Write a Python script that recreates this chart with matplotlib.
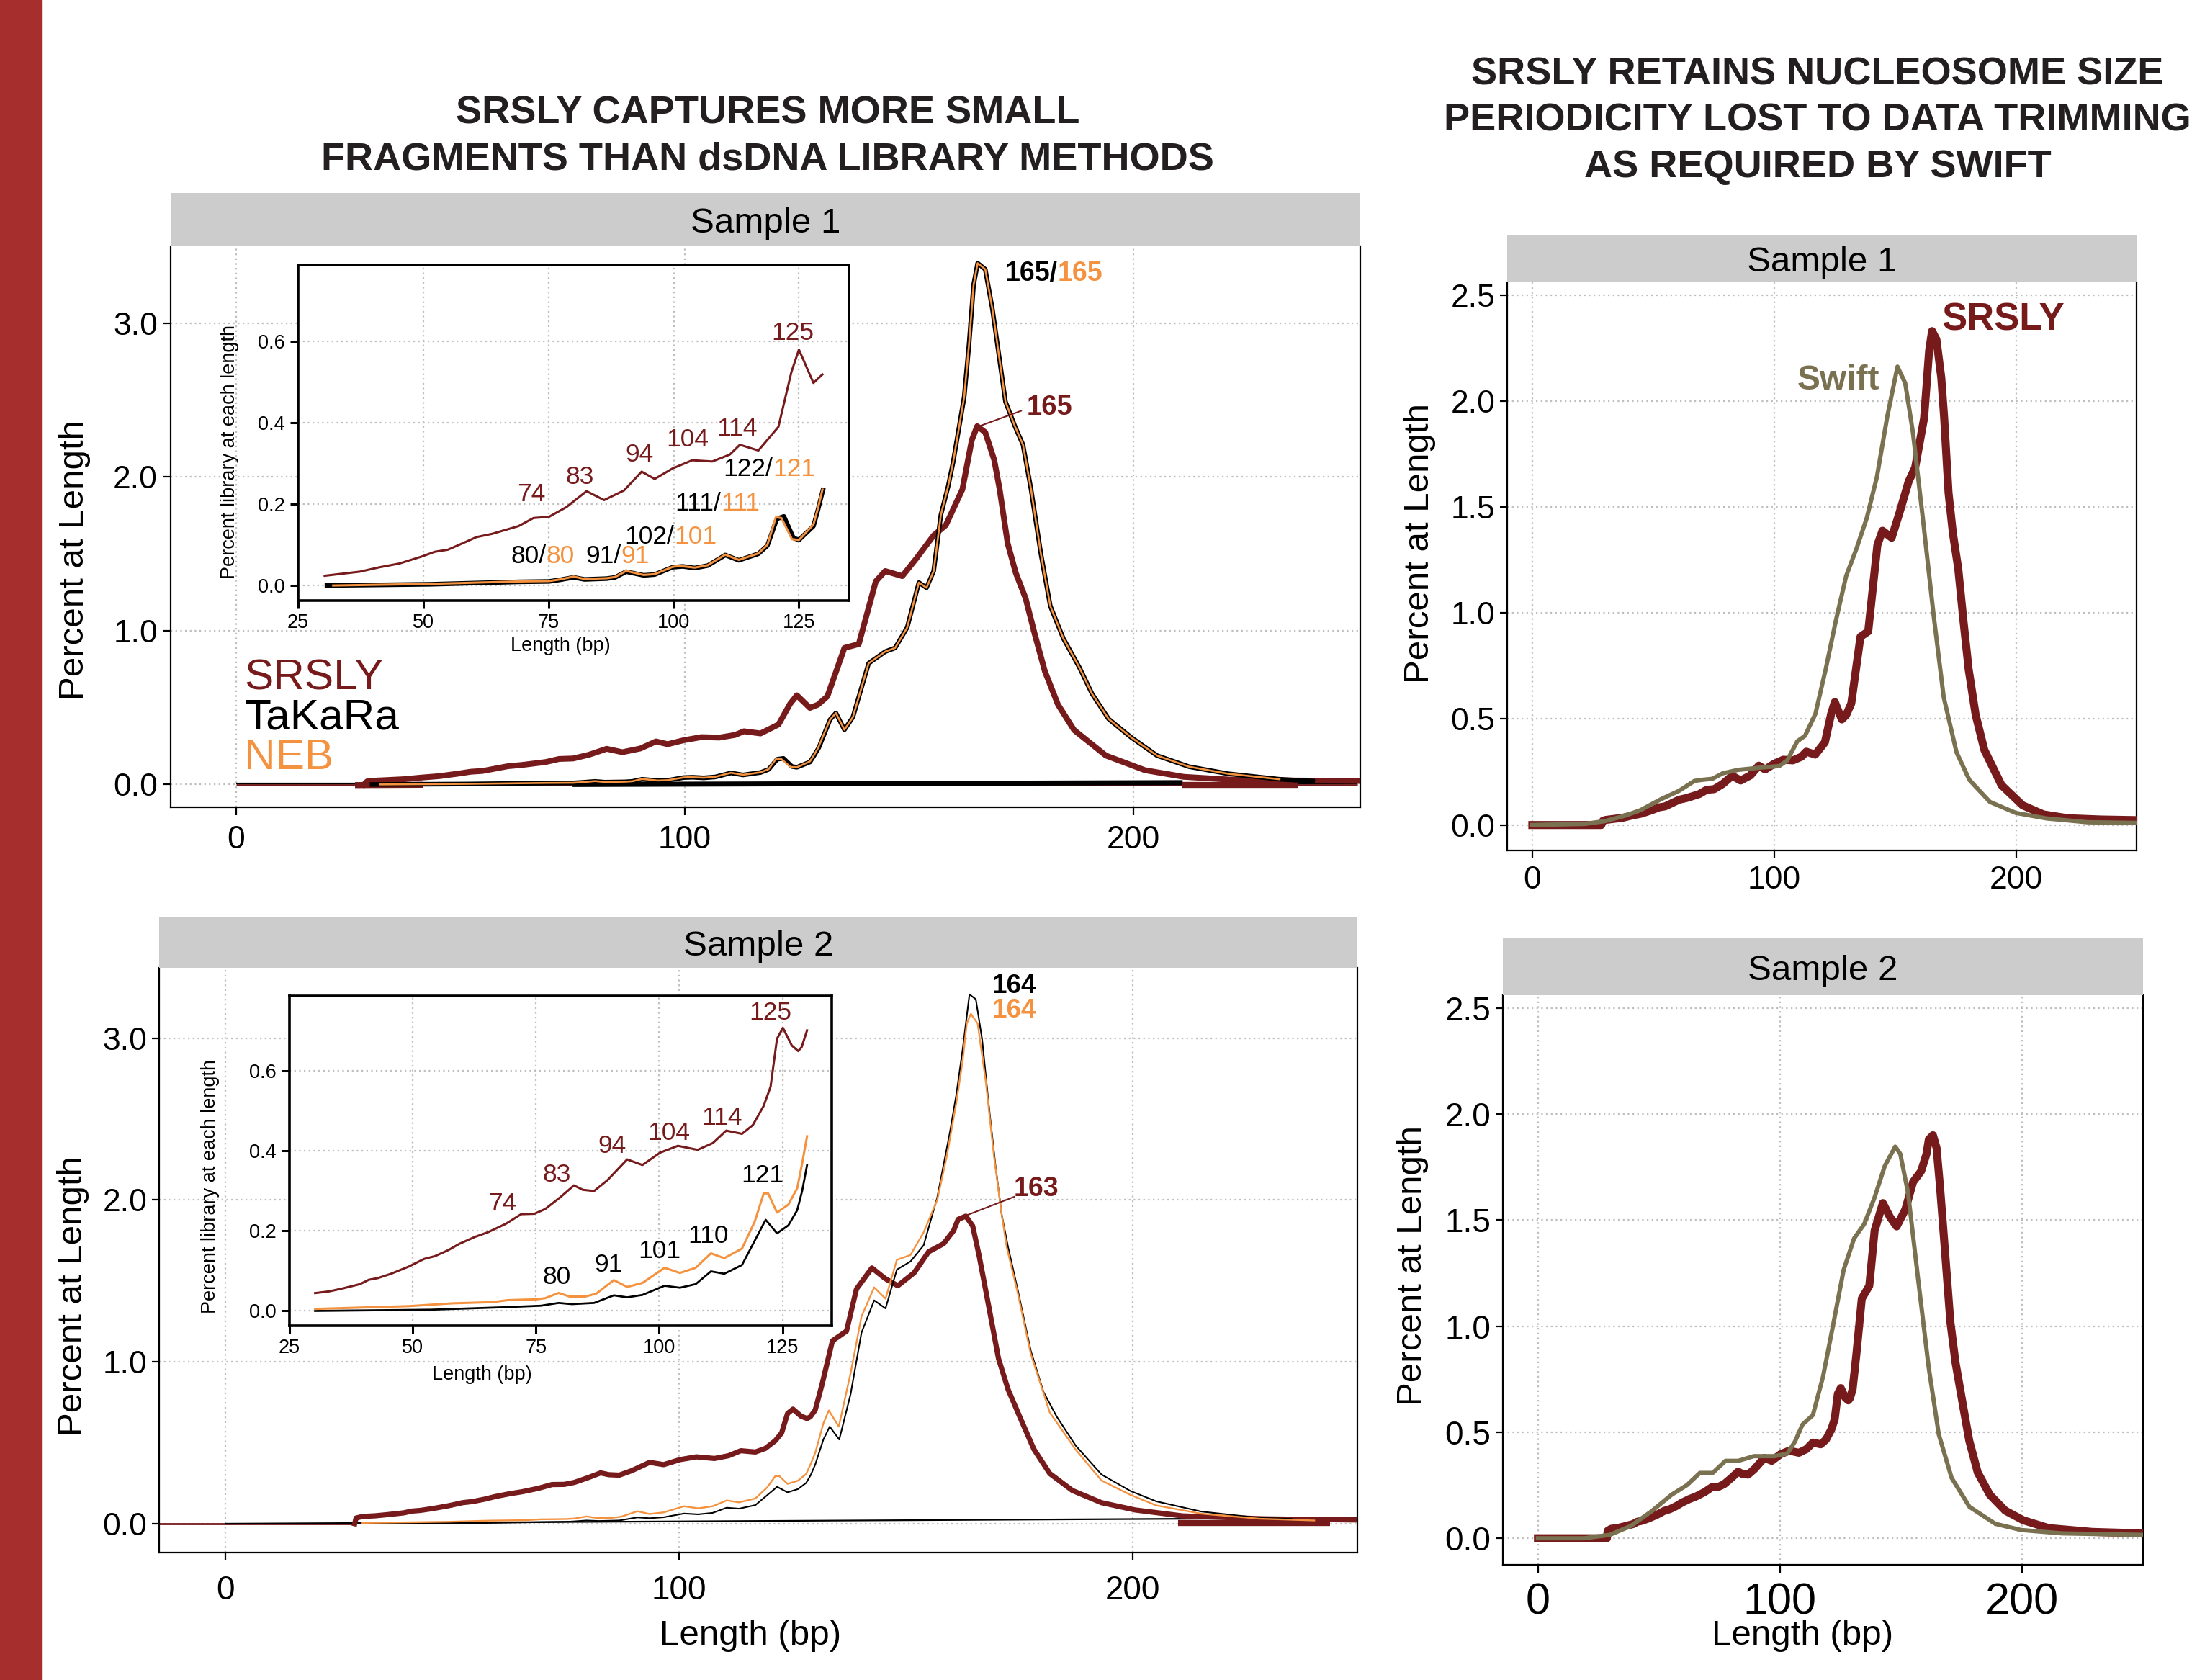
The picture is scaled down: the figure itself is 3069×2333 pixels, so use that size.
import numpy as np
import matplotlib
matplotlib.use('Agg')
import matplotlib.pyplot as plt
from matplotlib.patches import Rectangle
from matplotlib import transforms as mtrans

plt.rcParams['font.family'] = ['Liberation Sans', 'DejaVu Sans']

# ---------------- data (Length bp, Percent at length) ----------------
s1_srsly = [(0, 0.0), (28.5, 0.0), (29.2, 0.02), (30.3, 0.024), (37.3, 0.034), (41.3, 0.045), (45.2, 0.054),
            (49.6, 0.071), (52.3, 0.083), (54.9, 0.088), (57.5, 0.102), (60.6, 0.119), (63.7, 0.127),
            (69.0, 0.146), (72.0, 0.166), (75.1, 0.169), (78.6, 0.193), (82.6, 0.232), (86.1, 0.21),
            (90.1, 0.234), (93.6, 0.28), (96.2, 0.262), (99.8, 0.288), (103.7, 0.308), (107.7, 0.305),
            (111.2, 0.322), (113.2, 0.346), (116.9, 0.332), (120.9, 0.39), (123.5, 0.525), (125.0, 0.58),
            (127.9, 0.498), (129.7, 0.519), (131.8, 0.573), (135.6, 0.888), (138.8, 0.913), (142.6, 1.321),
            (144.7, 1.388), (148.5, 1.355), (151.7, 1.472), (155.5, 1.62), (158.2, 1.686), (161.9, 1.919),
            (164.0, 2.24), (165.2, 2.33), (167.0, 2.29), (169.0, 2.11), (170.2, 1.92), (172.0, 1.567),
            (173.8, 1.376), (176.0, 1.21), (178.1, 0.97), (180.3, 0.735), (183.2, 0.52), (186.8, 0.354),
            (193.9, 0.188), (202.6, 0.093), (211.2, 0.05), (221.3, 0.032), (235.0, 0.026), (250.0, 0.023)]

s1_takara = [(30.3, 0.0), (51.4, 0.003), (69.0, 0.009), (75.1, 0.010), (77.3, 0.014), (80.0, 0.020),
             (82.2, 0.015), (86.6, 0.017), (88.3, 0.020), (90.5, 0.034), (94.0, 0.025), (96.2, 0.027),
             (99.8, 0.045), (101.8, 0.047), (104.2, 0.043), (106.8, 0.049), (110.3, 0.075), (113.0, 0.062),
             (116.9, 0.078), (118.7, 0.098), (120.6, 0.164), (122.0, 0.170), (123.9, 0.117), (125.0, 0.112),
             (127.9, 0.146), (128.8, 0.186), (129.9, 0.240), (132.4, 0.422), (133.7, 0.465), (135.6, 0.356),
             (137.5, 0.439), (141.0, 0.788), (144.7, 0.864), (146.9, 0.888), (149.6, 1.021), (152.2, 1.313),
             (153.9, 1.279), (155.5, 1.388), (157.1, 1.753), (158.7, 1.936), (159.8, 2.09), (161.2, 2.33),
             (162.3, 2.52), (163.4, 2.87), (164.4, 3.25), (165.3, 3.39), (167.0, 3.35), (168.6, 3.09),
             (170.0, 2.80), (171.5, 2.49), (173.6, 2.33), (175.4, 2.21), (177.2, 1.92), (179.4, 1.50),
             (181.5, 1.16), (184.4, 0.95), (188.0, 0.76), (190.8, 0.59), (194.5, 0.426), (199.5, 0.307),
             (205.3, 0.188), (212.4, 0.116), (221.1, 0.070), (232.6, 0.034), (240.0, 0.022)]

s1_neb = [(32.0, 0.0), (51.4, 0.004), (69.0, 0.010), (75.1, 0.011), (77.3, 0.015), (80.0, 0.022),
          (82.2, 0.016), (86.6, 0.018), (88.3, 0.021), (90.5, 0.036), (94.0, 0.026), (96.2, 0.028),
          (99.8, 0.046), (101.2, 0.048), (104.2, 0.044), (106.8, 0.050), (110.3, 0.076), (113.0, 0.063),
          (116.9, 0.079), (118.7, 0.100), (120.4, 0.168), (121.5, 0.166), (123.6, 0.114), (125.0, 0.112),
          (127.9, 0.150), (128.8, 0.190), (129.7, 0.236), (132.4, 0.422), (133.7, 0.465), (135.6, 0.356),
          (137.5, 0.439), (141.0, 0.788), (144.7, 0.864), (146.9, 0.888), (149.6, 1.021), (152.2, 1.313),
          (153.9, 1.279), (155.5, 1.388), (157.1, 1.753), (158.7, 1.936), (159.8, 2.09), (161.2, 2.33),
          (162.3, 2.52), (163.4, 2.87), (164.4, 3.25), (165.3, 3.39), (167.0, 3.35), (168.6, 3.09),
          (170.0, 2.80), (171.5, 2.49), (173.6, 2.33), (175.4, 2.21), (177.2, 1.92), (179.4, 1.50),
          (181.5, 1.16), (184.4, 0.95), (188.0, 0.76), (190.8, 0.59), (194.5, 0.426), (199.5, 0.307),
          (205.3, 0.188), (212.4, 0.116), (221.1, 0.070), (232.6, 0.034)]

s2_srsly = [(0, 0.0), (28.5, 0.0), (28.8, 0.035), (30.2, 0.0446), (33.1, 0.049), (35.7, 0.056), (39.3, 0.067),
            (41.1, 0.078), (42.9, 0.082), (45.6, 0.093), (49.2, 0.111), (52.3, 0.130), (54.5, 0.137),
            (57.2, 0.152), (59.5, 0.168), (62.6, 0.185), (65.3, 0.197), (68.9, 0.218), (72.0, 0.242),
            (74.7, 0.243), (76.9, 0.255), (80.1, 0.286), (82.7, 0.314), (84.5, 0.303), (86.8, 0.300),
            (89.5, 0.327), (93.5, 0.379), (96.6, 0.365), (100.2, 0.396), (103.8, 0.413), (107.8, 0.403),
            (110.9, 0.420), (113.6, 0.451), (116.8, 0.443), (119.0, 0.465), (121.2, 0.513), (122.6, 0.561),
            (123.9, 0.681), (125.1, 0.708), (126.9, 0.664), (128.2, 0.650), (128.9, 0.660), (130.0, 0.702),
            (131.5, 0.86), (133.8, 1.13), (136.9, 1.19), (139.1, 1.45), (142.5, 1.58), (145.4, 1.515),
            (148.2, 1.47), (151.8, 1.55), (155.0, 1.68), (158.3, 1.73), (160.5, 1.81), (161.5, 1.88),
            (163.2, 1.90), (164.7, 1.84), (166.1, 1.66), (168.2, 1.35), (170.4, 1.02), (172.5, 0.83),
            (175.4, 0.64), (178.2, 0.46), (181.7, 0.31), (186.7, 0.205), (193.1, 0.13), (200.5, 0.085),
            (211.0, 0.048), (229.0, 0.030), (250.0, 0.023)]

s2_takara = [(30.2, 0.0), (53.6, 0.003), (68.0, 0.009), (76.0, 0.013), (79.6, 0.020), (82.3, 0.017),
             (86.8, 0.020), (90.8, 0.039), (93.5, 0.034), (96.6, 0.040), (101.1, 0.063), (104.2, 0.058),
             (107.4, 0.067), (110.5, 0.099), (113.2, 0.093), (116.8, 0.115), (119.4, 0.176), (121.6, 0.228),
             (123.9, 0.194), (126.2, 0.214), (128.0, 0.252), (129.0, 0.300), (130.0, 0.365), (131.8, 0.52),
             (133.2, 0.60), (135.3, 0.52), (137.8, 0.80), (140.2, 1.18), (143.0, 1.38), (145.5, 1.33),
             (148.0, 1.57), (151.0, 1.62), (153.9, 1.72), (156.9, 2.015), (159.7, 2.42), (161.1, 2.65),
             (162.5, 2.93), (164.0, 3.27), (165.4, 3.24), (166.8, 2.99), (168.2, 2.60), (169.7, 2.22),
             (171.1, 1.91), (172.5, 1.71), (174.6, 1.45), (177.5, 1.07), (180.3, 0.815), (183.2, 0.663),
             (187.4, 0.483), (193.1, 0.304), (199.5, 0.202), (205.2, 0.138), (215.1, 0.075), (227.9, 0.036),
             (235.0, 0.030)]

s2_neb = [(30.2, 0.005), (49.2, 0.012), (58.1, 0.019), (66.2, 0.022), (69.3, 0.027), (75.1, 0.029),
          (76.9, 0.032), (79.6, 0.045), (81.8, 0.036), (85.0, 0.036), (87.2, 0.043), (90.8, 0.077),
          (93.5, 0.060), (96.6, 0.070), (101.1, 0.108), (104.2, 0.095), (107.4, 0.108), (110.5, 0.144),
          (113.2, 0.132), (116.8, 0.156), (119.4, 0.224), (121.2, 0.294), (122.1, 0.294), (123.9, 0.246),
          (126.2, 0.266), (128.0, 0.307), (129.0, 0.369), (130.0, 0.437), (131.8, 0.62), (133.0, 0.70),
          (135.2, 0.60), (137.8, 0.93), (140.2, 1.28), (143.0, 1.46), (145.5, 1.39), (148.0, 1.63),
          (151.0, 1.66), (153.9, 1.80), (156.9, 2.00), (159.0, 2.27), (161.1, 2.60), (162.5, 2.86),
          (163.4, 3.09), (164.3, 3.15), (165.8, 3.09), (167.6, 2.73), (169.4, 2.27), (171.1, 1.91),
          (172.2, 1.71), (174.6, 1.43), (177.5, 1.05), (181.7, 0.687), (187.4, 0.458), (193.1, 0.267),
          (199.5, 0.178), (205.2, 0.113), (215.1, 0.062), (227.9, 0.031), (240.0, 0.020)]

s1_swift = [(0, 0.0), (21.4, 0.005), (29.9, 0.018), (38.3, 0.044), (44.7, 0.070), (53.2, 0.122), (60.6, 0.161),
            (67.0, 0.208), (70.1, 0.213), (74.4, 0.218), (78.7, 0.244), (85.0, 0.260), (93.5, 0.270),
            (102.0, 0.278), (105.3, 0.304), (109.5, 0.395), (112.7, 0.421), (117.0, 0.525), (121.2, 0.733),
            (125.5, 0.967), (129.7, 1.175), (134.0, 1.305), (138.2, 1.448), (142.4, 1.642), (146.7, 1.928),
            (150.9, 2.162), (154.1, 2.084), (157.3, 1.850), (161.5, 1.435), (165.8, 0.993), (170.0, 0.603),
            (175.3, 0.343), (180.6, 0.213), (189.1, 0.109), (199.8, 0.057), (212.5, 0.031), (229.5, 0.013),
            (249.6, 0.010)]

s2_swift = [(0, 0.0), (19.1, 0.0), (29.7, 0.016), (38.2, 0.057), (46.7, 0.125), (55.2, 0.205), (61.6, 0.251),
            (66.9, 0.308), (72.2, 0.308), (77.5, 0.365), (82.8, 0.365), (89.2, 0.387), (97.7, 0.387),
            (103.0, 0.399), (106.2, 0.456), (109.3, 0.536), (113.6, 0.581), (117.8, 0.763), (122.1, 1.014),
            (126.3, 1.265), (130.6, 1.413), (134.8, 1.481), (139.1, 1.607), (143.3, 1.755), (147.6, 1.846),
            (149.7, 1.812), (152.9, 1.629), (157.1, 1.219), (161.4, 0.809), (165.6, 0.490), (170.9, 0.285),
            (178.3, 0.148), (189.0, 0.068), (199.6, 0.039), (216.6, 0.023), (249.5, 0.016)]

# baseline strokes seen along y = 0 in the left panels
s1_base_black_thin = [(0, 0.008), (250, 0.008)]
s1_base_red_thin = [(0, -0.004), (250, -0.004)]
s1_base_black_thick = [(75, 0.0), (211, 0.012)]
s1_base_red_thick_a = [(26.5, -0.004), (41.6, -0.002)]
s1_base_red_thick_b = [(211, -0.002), (236.7, -0.002)]
s2_base_black_thin = [(0, 0.0), (250, 0.036)]
s2_base_red_thin = [(-14.6, 0.0), (28.5, 0.0)]
s2_base_red_thick = [(210, 0.004), (243.4, 0.004)]

# peak annotations in insets: (text, x, y)
in1_srsly_labels = [("125", 123.7, 0.62), ("74", 71.6, 0.224), ("83", 81.3, 0.266), ("94", 93.1, 0.321),
                    ("104", 102.7, 0.358), ("114", 112.7, 0.386)]
in1_pair_labels = [("122/", "121", 119.1, 0.286), ("111/", "111", 108.7, 0.201), ("102/", "101", 99.4, 0.120),
                   ("80/", "80", 73.8, 0.072), ("91/", "91", 88.8, 0.072)]
in2_srsly_labels = [("125", 122.6, 0.746), ("74", 68.2, 0.269), ("83", 79.2, 0.341), ("94", 90.5, 0.413),
                    ("104", 102.0, 0.444), ("114", 112.7, 0.482)]
in2_takara_labels = [("121", 121.0, 0.338), ("110", 109.9, 0.187), ("101", 100.0, 0.149), ("91", 89.7, 0.115),
                     ("80", 79.2, 0.084)]

RED = '#761A1B'
BLACK = '#000000'
ORANGE = '#F4923F'
OLIVE = '#7A7150'
GRID = '#BEBEBE'
STRIP = '#CCCCCC'
TXT = '#231F20'

W, H = 3069, 2333
fig = plt.figure(figsize=(W / 100, H / 100), dpi=100)


def box(x0, y0, x1, y1):
    return [x0 / W, 1 - y1 / H, (x1 - x0) / W, (y1 - y0) / H]


def fxy(x, y):
    return x / W, 1 - y / H


def xy(pairs):
    a = np.array(pairs, dtype=float)
    return a[:, 0], a[:, 1]


fig.add_artist(Rectangle((0, 0), 58 / W, 1, transform=fig.transFigure, color='#A62F2D', zorder=0))

GRID_LS = (0, (1, 2))


def style_main(ax, xlim, ylim, yticks, yfmt, xsize, ysize, xpad, ypad):
    ax.set_xlim(*xlim)
    ax.set_ylim(*ylim)
    ax.set_xticks([0, 100, 200])
    ax.set_yticks(yticks)
    ax.set_yticklabels([yfmt.format(v) for v in yticks])
    ax.grid(True, color=GRID, linestyle=GRID_LS, linewidth=1.6)
    ax.set_axisbelow(True)
    for s in ['left', 'bottom', 'right']:
        ax.spines[s].set_linewidth(1.6)
    ax.spines['top'].set_visible(False)
    ax.tick_params(axis='x', direction='out', length=8, width=1.6, labelsize=xsize, pad=xpad)
    ax.tick_params(axis='y', direction='out', length=7, width=1.6, labelsize=ysize, pad=ypad)


def strip(rect, label):
    s = fig.add_axes(rect)
    s.set_facecolor(STRIP)
    s.set_xticks([])
    s.set_yticks([])
    for sp in s.spines.values():
        sp.set_visible(False)
    s.text(0.5, 0.42, label, ha='center', va='center', fontsize=35.5, transform=s.transAxes)
    return s


def style_inset(ax):
    ax.set_xlim(25, 135)
    ax.set_ylim(-0.037, 0.788)
    ax.set_xticks([25, 50, 75, 100, 125])
    ax.set_yticks([0.0, 0.2, 0.4, 0.6])
    ax.set_yticklabels(['0.0', '0.2', '0.4', '0.6'])
    ax.grid(True, color=GRID, linestyle=GRID_LS, linewidth=1.6)
    ax.set_axisbelow(True)
    ax.set_facecolor('white')
    for sp in ax.spines.values():
        sp.set_linewidth(2.6)
    ax.tick_params(direction='out', length=8, width=2.2, labelsize=19.5, pad=5)


def two_tone(ax, x, y, left, right, c1, c2, size, weight='normal'):
    off = mtrans.offset_copy(ax.transData, fig=fig, x=0.139 * size, y=0, units='points')
    t1 = ax.text(x, y, left, color=c1, fontsize=size, fontweight=weight, ha='right', va='center',
                 transform=off, zorder=6)
    ax.annotate(right, xy=(1, 0), xycoords=t1, color=c2, fontsize=size, fontweight=weight,
                ha='left', va='bottom', zorder=6)


# ---------------- top-left: Sample 1 ----------------
ax_tl = fig.add_axes(box(237, 342, 1889, 1121))
style_main(ax_tl, (-14.6, 250.6), (-0.148, 3.50), [0, 1, 2, 3], '{:.1f}', 32, 32, 10, 6)
strip(box(237, 268, 1889, 342), 'Sample 1')

for pairs, c, lw in [(s1_base_red_thin, RED, 2.0), (s1_base_black_thin, BLACK, 1.6),
                     (s1_base_black_thick, BLACK, 5.0), (s1_base_red_thick_a, RED, 6.0),
                     (s1_base_red_thick_b, RED, 6.0)]:
    bx, by = xy(pairs)
    ax_tl.plot(bx, by, color=c, lw=lw, solid_capstyle='butt', zorder=2)

x, y = xy(s1_srsly)
m = x >= 28.5
ax_tl.plot(x[m], y[m], color=RED, lw=5.8, solid_joinstyle='round', zorder=3)
x, y = xy(s1_takara)
ax_tl.plot(x, y, color=BLACK, lw=4.6, solid_joinstyle='round', zorder=4)
x, y = xy(s1_neb)
ax_tl.plot(x, y, color=ORANGE, lw=1.9, solid_joinstyle='round', zorder=5)

ax_tl.plot([165.2, 175.0], [2.325, 2.43], color=RED, lw=1.5, zorder=6)
ax_tl.text(176.2, 2.45, '165', color=RED, fontsize=27.5, fontweight='bold', ha='left', va='center', zorder=6)
t1 = ax_tl.text(171.4, 3.32, '165/', color=BLACK, fontsize=27, fontweight='bold', ha='left', va='center', zorder=6)
ax_tl.annotate('165', xy=(1, 0), xycoords=t1, color=ORANGE, fontsize=27, fontweight='bold',
               ha='left', va='bottom', zorder=6)

for lab, yy, c in [('SRSLY', 0.616, RED), ('TaKaRa', 0.358, BLACK), ('NEB', 0.100, ORANGE)]:
    ax_tl.text(1.8, yy, lab, color=c, fontsize=43.5, ha='left', va='baseline', zorder=6)

# inset 1
in1 = fig.add_axes(box(414, 368, 1179, 834))
in1.set_zorder(10)
style_inset(in1)
x, y = xy(s1_srsly)
m = (x >= 30) & (x <= 130)
in1.plot(x[m], y[m], color=RED, lw=2.2, zorder=3)
x, y = xy(s1_takara)
m = x <= 130
in1.plot(x[m], y[m], color=BLACK, lw=4.6, solid_capstyle='butt', zorder=4)
x, y = xy(s1_neb)
m = x <= 130
in1.plot(x[m], y[m], color=ORANGE, lw=2.2, zorder=5)
for lab, lx, ly in in1_srsly_labels:
    in1.text(lx, ly, lab, color=RED, fontsize=25.5, ha='center', va='center', zorder=6)
for a, b, lx, ly in in1_pair_labels:
    two_tone(in1, lx, ly, a, b, BLACK, ORANGE, 25.5)

# ---------------- bottom-left: Sample 2 ----------------
ax_bl = fig.add_axes(box(221, 1344, 1885, 2156))
style_main(ax_bl, (-14.6, 249.5), (-0.178, 3.434), [0, 1, 2, 3], '{:.1f}', 33, 32, 14, 5)
strip(box(221, 1273, 1885, 1344), 'Sample 2')

for pairs, c, lw in [(s2_base_red_thin, RED, 2.0), (s2_base_black_thin, BLACK, 1.6),
                     (s2_base_red_thick, RED, 6.0)]:
    bx, by = xy(pairs)
    ax_bl.plot(bx, by, color=c, lw=lw, solid_capstyle='butt', zorder=2)

x, y = xy(s2_srsly)
m = x >= 28.5
ax_bl.plot(x[m], y[m], color=RED, lw=5.2, solid_joinstyle='round', zorder=3)
x, y = xy(s2_takara)
ax_bl.plot(x, y, color=BLACK, lw=1.5, zorder=4)
x, y = xy(s2_neb)
ax_bl.plot(x, y, color=ORANGE, lw=1.7, zorder=5)

ax_bl.plot([162.9, 173.9], [1.90, 2.02], color=RED, lw=1.5, zorder=6)
ax_bl.text(173.7, 2.07, '163', color=RED, fontsize=27, fontweight='bold', ha='left', va='center', zorder=6)
ax_bl.text(169.0, 3.32, '164', color=BLACK, fontsize=26.5, fontweight='bold', ha='left', va='center', zorder=6)
ax_bl.text(169.0, 3.17, '164', color=ORANGE, fontsize=26.5, fontweight='bold', ha='left', va='center', zorder=6)

# inset 2
in2 = fig.add_axes(box(402, 1383, 1155, 1841))
in2.set_zorder(10)
style_inset(in2)
x, y = xy(s2_srsly)
m = (x >= 30) & (x <= 130)
in2.plot(x[m], y[m], color=RED, lw=2.2, zorder=3)
x, y = xy(s2_takara)
m = x <= 130
in2.plot(x[m], y[m], color=BLACK, lw=2.0, zorder=4)
x, y = xy(s2_neb)
m = x <= 130
in2.plot(x[m], y[m], color=ORANGE, lw=2.2, zorder=5)
for lab, lx, ly in in2_srsly_labels:
    in2.text(lx, ly, lab, color=RED, fontsize=25.5, ha='center', va='center', zorder=6)
for lab, lx, ly in in2_takara_labels:
    in2.text(lx, ly, lab, color=BLACK, fontsize=25.5, ha='center', va='center', zorder=6)

# ---------------- right panels ----------------
ax_tr = fig.add_axes(box(2093, 392, 2967, 1181))
style_main(ax_tr, (-10.4, 249.7), (-0.12, 2.56), [0, 0.5, 1.0, 1.5, 2.0, 2.5], '{:.1f}', 32, 32, 7, 5)
strip(box(2093, 327, 2967, 392), 'Sample 1')
x, y = xy(s1_srsly)
ax_tr.plot(x, y, color=RED, lw=8, solid_joinstyle='round', zorder=3)
x, y = xy(s1_swift)
ax_tr.plot(x, y, color=OLIVE, lw=4.3, solid_joinstyle='round', zorder=4)
ax_tr.text(194.5, 2.383, 'SRSLY', color=RED, fontsize=38, fontweight='bold', ha='center', va='center')
ax_tr.text(126.6, 2.097, 'Swift', color=OLIVE, fontsize=34.5, fontweight='bold', ha='center', va='center')

ax_br = fig.add_axes(box(2087, 1382, 2976, 2173))
style_main(ax_br, (-14.5, 250), (-0.125, 2.56), [0, 0.5, 1.0, 1.5, 2.0, 2.5], '{:.1f}', 44, 33, 10, 5)
strip(box(2087, 1302, 2976, 1382), 'Sample 2')
x, y = xy(s2_srsly)
ax_br.plot(x, y, color=RED, lw=8, solid_joinstyle='round', zorder=3)
x, y = xy(s2_swift)
ax_br.plot(x, y, color=OLIVE, lw=4.3, solid_joinstyle='round', zorder=4)

# ---------------- texts ----------------
def ftext(x, y, s, **kw):
    fx, fy = fxy(x, y)
    fig.text(fx, fy, s, **kw)


for s, yb in [('SRSLY CAPTURES MORE SMALL', 171), ('FRAGMENTS THAN dsDNA LIBRARY METHODS', 235)]:
    ftext(1066, yb, s, ha='center', va='baseline', fontsize=39, fontweight='bold', color=TXT)
for s, yb in [('SRSLY RETAINS NUCLEOSOME SIZE', 117), ('PERIODICITY LOST TO DATA TRIMMING', 182),
              ('AS REQUIRED BY SWIFT', 246)]:
    ftext(2524, yb, s, ha='center', va='baseline', fontsize=39, fontweight='bold', color=TXT)

for xx, yy in [(103, 778), (102, 1800), (1972, 754), (1962, 1757)]:
    ftext(xx, yy, 'Percent at Length', rotation=90, ha='center', va='center', fontsize=35.5)
for xx, yy in [(1042, 2272), (2503, 2272)]:
    ftext(xx, yy, 'Length (bp)', ha='center', va='center', fontsize=35.5)

ftext(319, 628, 'Percent library at each length', rotation=90, ha='center', va='center', fontsize=19.5)
ftext(778, 897, 'Length (bp)', ha='center', va='center', fontsize=19.5)
ftext(292, 1648, 'Percent library at each length', rotation=90, ha='center', va='center', fontsize=19.5)
ftext(669, 1909, 'Length (bp)', ha='center', va='center', fontsize=19.5)

fig.savefig('out.png', dpi=100)
